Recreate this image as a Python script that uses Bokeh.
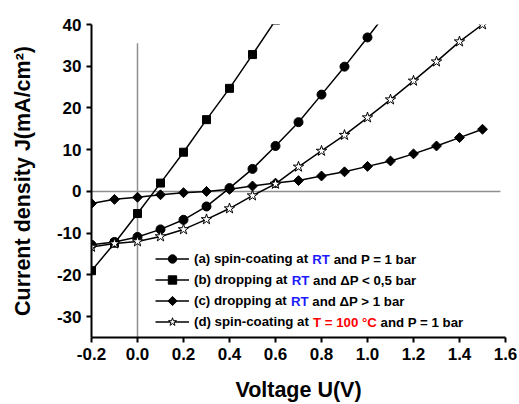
import math
from bokeh.plotting import figure
from bokeh.models import (FixedTicker, PrintfTickFormatter, Legend, LegendItem,
                          Label, Range1d, LinearAxis)
from bokeh.embed import file_html
from bokeh.resources import INLINE

# ---------------- data ----------------
volt_a = [-0.2, -0.1, 0.0, 0.1, 0.2, 0.3, 0.4, 0.5, 0.6, 0.7, 0.8, 0.9, 1.0, 1.1]
curr_a = [-12.8, -12.1, -10.9, -9.1, -6.8, -3.6, 0.8, 5.4, 10.9, 16.6, 23.2, 29.9, 36.9, 44.0]

volt_b = [-0.2, -0.1, 0.0, 0.1, 0.2, 0.3, 0.4, 0.5, 0.6]
curr_b = [-19.0, -12.4, -5.3, 2.0, 9.4, 17.2, 24.7, 32.8, 41.0]

volt_c = [-0.2, -0.1, 0.0, 0.1, 0.2, 0.3, 0.4, 0.5, 0.6, 0.7, 0.8, 0.9, 1.0, 1.1, 1.2, 1.3, 1.4, 1.5]
curr_c = [-2.9, -1.9, -1.4, -0.8, -0.3, 0.0, 0.5, 1.3, 2.0, 2.6, 3.7, 4.7, 6.0, 7.3, 9.0, 10.9, 12.9, 14.9]

volt_d = [-0.2, -0.1, 0.0, 0.1, 0.2, 0.3, 0.4, 0.5, 0.6, 0.7, 0.8, 0.9, 1.0, 1.1, 1.2, 1.3, 1.4, 1.5]
curr_d = [-13.3, -12.5, -12.0, -10.8, -9.1, -6.7, -4.1, -1.0, 1.8, 5.9, 9.7, 13.5, 17.7, 22.0, 26.5, 31.1, 35.9, 40.0]

x_ticks = [-0.2, 0.0, 0.2, 0.4, 0.6, 0.8, 1.0, 1.2, 1.4, 1.6]
y_ticks = [-30, -20, -10, 0, 10, 20, 30, 40]

# reference lines (zero current / zero voltage)
zero_h_x = [-0.2, 1.578]
zero_h_y = [0, 0]
zero_v_x = [0, 0]
zero_v_y = [-35, 35.5]

legend_parts = [
    [("(a) spin-coating at ", "black"), ("RT", "#1c1cff"), (" and P = 1 bar", "black")],
    [("(b) dropping at ", "black"), ("RT", "#1c1cff"), (" and \u0394P < 0,5 bar", "black")],
    [("(c) dropping at ", "black"), ("RT", "#1c1cff"), (" and \u0394P > 1 bar", "black")],
    [("(d) spin-coating at ", "black"), ("T = 100 \u00b0C", "#ff0000"), (" and P = 1 bar", "black")],
]

# ---------------- layout ----------------
W, H = 519, 404
FL, FT, FR, FB = 91, 24, 14, 67
X0, X1 = -0.2, 1.6
Y0, Y1 = -35, 40
FW = W - FL - FR
FH = H - FT - FB
FONT = "Liberation Sans"


def px2x(px):
    return X0 + (px - FL) / FW * (X1 - X0)


def py2y(py):
    return Y1 - (py - FT) / FH * (Y1 - Y0)


p = figure(width=W, height=H, output_backend="svg", toolbar_location=None,
           x_range=Range1d(X0, X1), y_range=Range1d(Y0, Y1))
p.min_border_left = FL
p.min_border_right = FR
p.min_border_top = FT
p.min_border_bottom = FB
p.outline_line_color = None
p.xgrid.visible = False
p.ygrid.visible = False
p.background_fill_color = "white"
p.border_fill_color = "white"

for ax, ticks, fmt in ((p.xaxis[0], x_ticks, "%.1f"), (p.yaxis[0], y_ticks, "%d")):
    ax.ticker = FixedTicker(ticks=ticks, minor_ticks=[])
    ax.formatter = PrintfTickFormatter(format=fmt)
    ax.axis_line_width = 2
    ax.axis_line_color = "black"
    ax.major_tick_line_width = 2
    ax.major_tick_line_color = "black"
    ax.major_tick_out = 5
    ax.major_tick_in = 0
    ax.minor_tick_line_color = None
    ax.major_label_text_font = FONT
    ax.major_label_text_font_style = "bold"
    ax.major_label_text_font_size = "17px"
    ax.major_label_text_color = "black"

p.xaxis.axis_label = "Voltage U(V)"
p.xaxis.axis_label_text_font = FONT
p.xaxis.axis_label_text_font_style = "bold"
p.xaxis.axis_label_text_font_size = "21.5px"
p.xaxis.axis_label_text_color = "black"
p.xaxis.axis_label_standoff = 15

# y title carried by a bare axis whose bounds centre it where the original sits
title_axis = LinearAxis(bounds=(-29.5, 40), ticker=FixedTicker(ticks=[]),
                        axis_line_color=None, major_tick_line_color=None,
                        minor_tick_line_color=None,
                        axis_label="Current density J(mA/cm\u00b2)",
                        axis_label_text_font=FONT, axis_label_text_font_style="bold",
                        axis_label_text_font_size="21.5px", axis_label_text_color="black",
                        axis_label_standoff=19)
p.add_layout(title_axis, "left")

# reference lines
p.line(zero_h_x, zero_h_y, line_color="#8f8f8f", line_width=1.5)
p.line(zero_v_x, zero_v_y, line_color="#8f8f8f", line_width=1.5)

LW = 1.5
series = [
    (volt_a, curr_a, dict(marker="circle", size=9, fill_color="black", angle=0)),
    (volt_b, curr_b, dict(marker="square", size=8, fill_color="black", angle=0)),
    (volt_c, curr_c, dict(marker="square", size=7, fill_color="black", angle=math.pi / 4)),
    (volt_d, curr_d, dict(marker="star", size=11, fill_color="white", angle=0)),
]
renderers = []
for xs, ys, mk in series:
    r1 = p.line(xs, ys, line_color="black", line_width=LW)
    r2 = p.scatter(xs, ys, marker=mk["marker"], size=mk["size"], angle=mk["angle"],
                   fill_color=mk["fill_color"], line_color="black", line_width=1)
    renderers.append((r1, r2))

# legend (manual placement, rich text done with labels)
ROW_H = 21
LEG_LEFT_PX = 155
GLYPH_W = 34
STANDOFF = 5
LEG_TOP_PX = 248
items = []
for i, (parts, (r1, r2)) in enumerate(zip(legend_parts, renderers)):
    rs = [r1] if i == 2 else [r1, r2]   # rotated marker drawn separately below
    items.append(LegendItem(label=parts[0][0].rstrip(), renderers=rs))

FS = 13.25
leg = Legend(items=items, location=(LEG_LEFT_PX - FL, (FT + FH) - (LEG_TOP_PX + 4 * ROW_H)),
             glyph_width=GLYPH_W, glyph_height=ROW_H, label_height=ROW_H,
             label_standoff=STANDOFF, spacing=0, padding=0, margin=0,
             border_line_color=None, background_fill_alpha=0,
             label_text_font=FONT, label_text_font_style="bold",
             label_text_font_size=f"{FS}px", label_text_color="black")
p.add_layout(leg, "center")

# diamond key for series (c)
p.scatter([px2x(LEG_LEFT_PX + GLYPH_W / 2)], [py2y(LEG_TOP_PX + ROW_H * 2.5)],
          marker="square", size=6.5, angle=math.pi / 4,
          fill_color="black", line_color="black", line_width=1)

# Arial-bold compatible advance widths (per 1000 em)
ADV = {' ': 278, '(': 333, ')': 333, 'a': 556, 'b': 611, 'c': 556, 'd': 611, 'e': 556,
       'g': 611, 'i': 278, 'n': 611, 'o': 611, 'p': 611, 'r': 389, 's': 556, 't': 333,
       '-': 333, 'R': 722, 'T': 611, 'P': 667, '=': 584, '0': 556, '1': 556, '5': 556,
       ',': 278, '<': 584, '>': 584, '\u00b0': 400, 'C': 722, '\u0394': 668}


def tw(s):
    return sum(ADV.get(ch, 556) for ch in s) * FS / 1000.0


text_x0 = LEG_LEFT_PX + GLYPH_W + STANDOFF
for i, parts in enumerate(legend_parts):
    cy = LEG_TOP_PX + ROW_H * (i + 0.5)
    offset = tw(parts[0][0])
    for seg, col in parts[1:]:
        lead = len(seg) - len(seg.lstrip())
        sx = text_x0 + offset + tw(seg[:lead])
        p.add_layout(Label(x=px2x(sx), y=py2y(cy), text=seg.strip(), text_color=col,
                           text_font=FONT, text_font_style="bold", text_font_size=f"{FS}px",
                           text_align="left", text_baseline="middle"))
        offset += tw(seg)

open("out.html", "w").write(file_html(p, INLINE))
